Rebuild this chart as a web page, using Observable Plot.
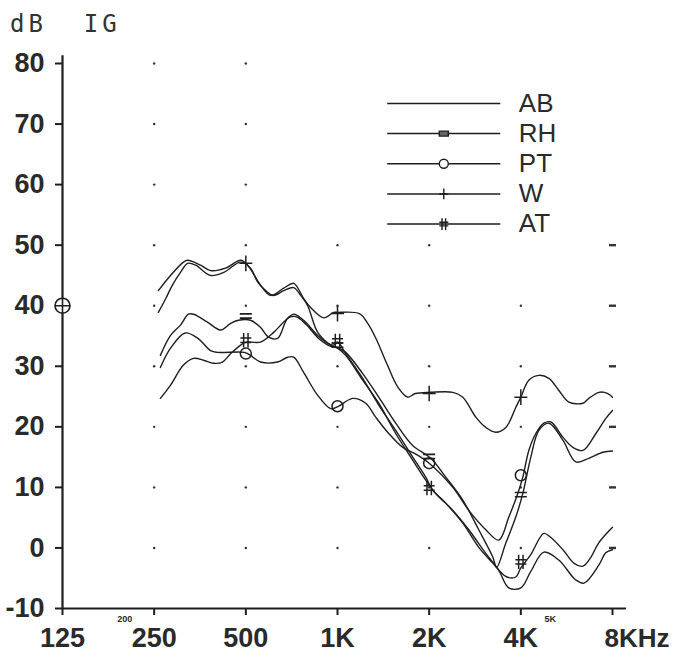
<!DOCTYPE html>
<html><head><meta charset="utf-8">
<script src="https://cdn.jsdelivr.net/npm/d3@7"></script>
<script src="https://cdn.jsdelivr.net/npm/@observablehq/plot@0.6"></script>
<style>
body{margin:0;background:#fff;}
#wrap{position:relative;width:675px;height:652px;}
#title{position:absolute;left:10px;top:12px;font-family:"DejaVu Sans Mono";font-size:24px;line-height:24px;letter-spacing:4px;color:#333;white-space:pre;z-index:2;}
</style></head><body>
<div id="wrap"><div id="title">dB  IG</div></div>
<script>
// ---- data ----
const freqTicks = [125, 250, 500, 1000, 2000, 4000];
const freqLabels = ["125", "250", "500", "1K", "2K", "4K"];
const lastFreq = [8000];
const lastLabel = ["8KHz"];
const minorFreqs = [200, 5000];
const minorLabels = ["200", "5K"];
const dbTicks = [-10, 0, 10, 20, 30, 40, 50, 60, 70, 80];
const seriesNames = ["AB", "RH", "PT", "W", "AT"];

const curveAB = [[258,38.9],[273,41.2],[287,43.4],[305,45.5],[322,47],[342,46.7],[383,45],[423,45.5],[481,47.2],[518,46.2],[547,43.9],[581,42.5],[617,41.7],[666,42.5],[718,43],[757,41.7],[798,40],[861,35.6],[950,33.5],[1000,33],[1064,31.8],[1210,27.7],[1366,23.9],[1553,18.9],[1766,14.5],[1949,11.2],[2102,9],[2392,6.2],[2699,3],[3069,-0.9],[3386,-3.7],[3650,-6.6],[4000,-6.6],[4300,-4],[4760,-0.7],[5330,-2],[6063,-5.3],[6450,-5.8],[7220,-2.8],[7600,-0.8],[8000,-0.3]];
const curveRH = [[262,31.8],[283,35.1],[305,36.8],[324,38.6],[337,38.6],[374,37.3],[413,36],[446,37.1],[473,37.6],[518,37.6],[559,36.4],[594,34.8],[636,34.6],[686,37.9],[729,38.2],[786,37],[867,34.6],[950,33.3],[1000,33.1],[1064,32.3],[1210,28.8],[1366,24.9],[1553,20.6],[1766,16.9],[2024,14.8],[2267,11.7],[2579,7.9],[2910,3],[3236,-1.5],[3330,-3.2],[3571,0.8],[3850,5.1],[4061,9],[4314,15],[4584,19.4],[4945,20.6],[5497,17.8],[6063,14.2],[6689,14.8],[7438,15.8],[8000,16]];
const curvePT = [[262,29.8],[283,33],[316,35.5],[348,34.6],[383,32.6],[403,32.3],[494,32.3],[518,31.8],[559,30.7],[636,30.7],[686,31.5],[718,31.5],[774,29],[861,25.2],[950,23],[1000,23.3],[1122,24.7],[1238,23.9],[1335,21.6],[1473,18.9],[1638,16.6],[1807,15.5],[2000,14],[2392,10],[2699,6.2],[3069,3],[3386,1.3],[3653,5.1],[3909,9],[4061,11.7],[4249,16.1],[4480,18.9],[4760,20.6],[5020,20.8],[5497,18.3],[5930,16.6],[6394,16.1],[7056,18.9],[7608,21.4],[8000,22.7]];
const curveW = [[258,42.5],[283,45],[312,47.2],[322,47.5],[355,46.7],[383,45.8],[429,46.2],[481,47.5],[507,46.7],[559,43.4],[603,41.7],[666,42.9],[718,43.7],[774,41.2],[816,39.7],[901,38],[971,38.9],[1000,38.9],[1180,38.7],[1260,37],[1340,34.5],[1450,30.5],[1580,26.5],[1700,24.9],[1800,25.5],[2024,25.7],[2392,25.7],[2579,24.9],[2846,21.6],[3069,19.9],[3310,19.1],[3571,19.9],[3850,23.2],[4000,24.9],[4249,27.7],[4584,28.5],[4945,28],[5334,26],[5752,24.1],[6394,23.9],[6689,24.7],[7220,25.7],[7727,25.5],[8000,24.9]];
const curveAT = [[262,24.7],[283,26.9],[312,30.2],[337,31.3],[363,31],[392,30.5],[419,30.7],[446,32.1],[481,33.5],[500,34],[559,34],[617,35.6],[666,37.3],[718,38.6],[774,37.6],[861,35.1],[929,33.8],[971,33.5],[1000,34],[1064,32.1],[1210,28],[1366,23.6],[1553,19.4],[1766,15],[1949,11.7],[2050,9.6],[2267,7.4],[2579,4.1],[2910,0.1],[3236,-2.5],[3438,-4],[3600,-4.8],[3850,-4.8],[4000,-3.3],[4300,-1.2],[4760,2.4],[5000,1.8],[5500,-0.3],[6000,-2.6],[6400,-3],[6800,-1.5],[7200,0.8],[8000,3.4]];

const markRH = [[500,38.3],[1000,33.5],[2000,15.1],[4000,8.8]];
const markPT = [[500,32.1],[1000,23.4],[2000,14],[4000,12]];
const markW  = [[500,47],[1000,38.7],[2000,25.5],[4000,24.9]];
const markAT = [[500,34.3],[1000,34.2],[2000,9.9],[4000,-2.3]];
const refPoint = [[125,40]];

const gridFreqsFull = [250, 500];
const gridLevelsFull = [0,10,20,30,40,50,60,70,80];
const gridFreqsLow = [1000, 2000, 4000];
const gridLevelsLow = [0,10,20,30,40,50];
const dashFreq = [8000];

// ---- symbols ----
const R = size => Math.sqrt(size / Math.PI);
const plusSym = {draw(c, s){ const r = R(s); c.moveTo(-r,0); c.lineTo(r,0); c.moveTo(0,-r*1.2); c.lineTo(0,r*1.2); }};
const hashSym = {draw(c, s){ const r = R(s); const a = r*0.4;
  c.moveTo(-a,-r*1.3); c.lineTo(-a,r*1.3); c.moveTo(a,-r*1.3); c.lineTo(a,r*1.3);
  c.moveTo(-r,-a); c.lineTo(r,-a); c.moveTo(-r,a); c.lineTo(r,a); }};
const eqSym = {draw(c, s){ const r = R(s); const a = r*0.35;
  c.moveTo(-r,-a); c.lineTo(r,-a); c.moveTo(-r,a); c.lineTo(r,a); }};
const ovalSym = {draw(c, s){ const r = R(s); c.ellipse ? c.ellipse(0,0,r*0.85,r*1.1,0,0,2*Math.PI) : c.arc(0,0,r,0,2*Math.PI); }};
const rectSym = {draw(c, s){ const r = R(s); c.rect(-r, -r*0.55, 2*r, r*1.1); }};
const dashSym = {draw(c, s){ const r = R(s); c.moveTo(-r,0); c.lineTo(r,0); }};
const oplusSym = {draw(c, s){ const r = R(s); c.moveTo(r,0); c.arc(0,0,r,0,2*Math.PI); c.moveTo(-r,0); c.lineTo(r,0); c.moveTo(0,-r); c.lineTo(0,r); }};

// ---- tables ----
const curves = {AB: curveAB, RH: curveRH, PT: curvePT, W: curveW, AT: curveAT};
const lineTable = seriesNames.flatMap(name => curves[name].map(([f, v]) => ({name, f, v})));
const toRows = arr => arr.map(([f, v]) => ({f, v}));
const gridDots = [
  ...gridFreqsFull.flatMap(f => gridLevelsFull.map(v => ({f, v}))),
  ...gridFreqsLow.flatMap(f => gridLevelsLow.filter(v => !(f === 4000 && v === 50)).map(v => ({f, v})))
];
const gridDashes = dashFreq.flatMap(f => gridLevelsLow.map(v => ({f, v})));
const allFreqTicks = [...freqTicks, ...lastFreq];
const yMin = dbTicks[0];

// legend layout (in scale units)
const legX1 = 1462, legX2 = 3438, legXm = 2234, legXt = 3940, legTop = 73.4, legStep = 4.98;
const legRows = seriesNames.map((name, i) => ({name, y: legTop - i * legStep}));
const legSym = {RH: rectSym, PT: ovalSym, W: plusSym, AT: hashSym};

const ink = "#1e1e1e";
const labelFont = "Liberation Sans, Arial, sans-serif";

const marks = [
  // grid
  Plot.dot(gridDots, {x: "f", y: "v", r: 1.2, fill: "#333", stroke: "none"}),
  Plot.dot(gridDashes, {x: "f", y: "v", r: 3.5, symbol: dashSym, stroke: "#333", strokeWidth: 2.4, fill: "none"}),
  // axes
  Plot.ruleY([yMin], {x1: 125, x2: 8900, stroke: ink, strokeWidth: 2.2}),
  Plot.ruleX([125], {y1: yMin, y2: 81.3, stroke: ink, strokeWidth: 2.2}),
  Plot.ruleY(dbTicks, {y: d => d, x1: 125, x2: 125, insetLeft: -7, stroke: ink, strokeWidth: 2}),
  Plot.ruleX(allFreqTicks, {x: d => d, y1: yMin, y2: yMin, insetBottom: -7, stroke: ink, strokeWidth: 2}),
  Plot.text(dbTicks, {x: 125, y: d => d, text: d => String(d), dx: -18, textAnchor: "end", lineAnchor: "middle",
    fontSize: 27, fontWeight: "bold", fontFamily: labelFont, fill: "#2a2a2a"}),
  Plot.text(freqTicks, {x: d => d, y: yMin, text: (d, i) => freqLabels[i], dy: 30, lineAnchor: "middle",
    fontSize: 27, fontWeight: "bold", fontFamily: labelFont, fill: "#2a2a2a"}),
  Plot.text(lastFreq, {x: d => d, y: yMin, text: (d, i) => lastLabel[i], dx: -8, dy: 30, textAnchor: "start", lineAnchor: "middle",
    fontSize: 26, fontWeight: "bold", fontFamily: labelFont, fill: "#2a2a2a"}),
  Plot.text(minorFreqs, {x: d => d, y: yMin, text: (d, i) => minorLabels[i], dy: 11, lineAnchor: "middle",
    fontSize: 9, fontWeight: "bold", fontFamily: labelFont, fill: "#2a2a2a"}),
  // reference symbol
  Plot.dot(toRows(refPoint), {x: "f", y: "v", r: 7.5, symbol: oplusSym, stroke: ink, strokeWidth: 1.6, fill: "white"}),
  // curves
  Plot.line(lineTable, {x: "f", y: "v", z: "name", curve: "catmull-rom", stroke: ink, strokeWidth: 1.4}),
  // markers
  Plot.dot(toRows(markRH), {x: "f", y: "v", r: 6, symbol: eqSym, stroke: ink, strokeWidth: 1.6, fill: "none"}),
  Plot.dot(toRows(markPT), {x: "f", y: "v", r: 5.5, symbol: ovalSym, stroke: ink, strokeWidth: 1.5, fill: "none"}),
  Plot.dot(toRows(markW), {x: "f", y: "v", r: 6.5, symbol: plusSym, stroke: ink, strokeWidth: 1.5, fill: "none"}),
  Plot.dot(toRows(markAT), {x: "f", y: "v", r: 5.5, symbol: hashSym, stroke: ink, strokeWidth: 1.5, fill: "none"}),
  // legend
  Plot.ruleY(legRows, {y: "y", x1: legX1, x2: legX2, stroke: ink, strokeWidth: 1.5}),
  Plot.dot(legRows.filter(d => legSym[d.name]), {x: legXm, y: "y", r: 4.5,
    symbol: d => d.name, stroke: ink, strokeWidth: 1.4, fill: d => d.name === "RH" ? "#666" : "white"}),
  Plot.text(legRows, {x: legXt, y: "y", text: "name", textAnchor: "start", lineAnchor: "middle",
    fontSize: 26, fontFamily: labelFont, fill: "#2a2a2a"})
];

const chart = Plot.plot({
  width: 675, height: 652,
  marginLeft: 62, marginRight: 63, marginTop: 63, marginBottom: 44,
  x: {type: "log", domain: [125, 8000], axis: null},
  y: {domain: [-10, 80], axis: null},
  symbol: {domain: ["RH", "PT", "W", "AT"], range: [rectSym, ovalSym, plusSym, hashSym]},
  style: {background: "white", color: ink, overflow: "visible"},
  marks
});
chart.style.position = "absolute";
chart.style.left = "0px";
chart.style.top = "0px";
const wrap = document.getElementById("wrap");
wrap.insertBefore(chart, wrap.firstChild);
</script>
</body></html>
